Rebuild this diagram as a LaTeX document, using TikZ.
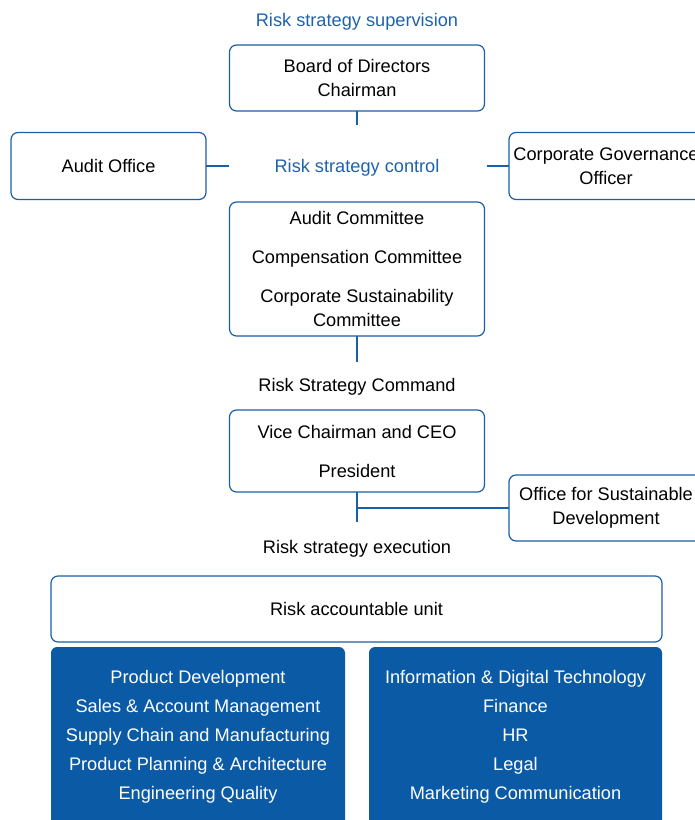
\documentclass[tikz,border=0pt]{standalone}
\usepackage{fontspec}
\setmainfont{Liberation Sans}
\definecolor{lineblue}{HTML}{1B5FA7}
\definecolor{fillblue}{HTML}{0A5AA6}
\definecolor{labelblue}{HTML}{1F62AC}
\tikzset{
  unitbox/.style={draw=lineblue, line width=1.2pt, rounded corners=7pt, align=center,
    inner sep=0pt, outer sep=0pt, fill=white},
  bluebox/.style={fill=fillblue, rounded corners=6pt, align=center, text=white,
    inner sep=0pt, outer sep=0pt, font=\fontsize{18.2}{29}\selectfont},
  level/.style={align=center},
  link/.style={draw=lineblue, line width=1.4pt}
}
\begin{document}
\begin{tikzpicture}[x=1pt, y=-1pt, font=\fontsize{18.2}{24}\selectfont]
\useasboundingbox (0,0) rectangle (695,820);
\clip (0,0) rectangle (695,820);

% levels
\node[level, text=labelblue] (sup) at (357,22) {Risk strategy supervision};
\node[level, text=labelblue] (ctl) at (357,168) {Risk strategy control};
\node[level] (cmd) at (357,387) {Risk Strategy Command};
\node[level] (exe) at (357,549) {Risk strategy execution};

% boxes
\node[unitbox, minimum width=255, minimum height=66] (board) at (357,78)
  {Board of Directors\\Chairman};
\node[unitbox, minimum width=195, minimum height=67] (audit) at (108.5,166)
  {Audit Office};
\node[unitbox, minimum width=194, minimum height=67] (cgo) at (606,166)
  {Corporate Governance\\Officer};
\node[unitbox, minimum width=255, minimum height=134] (comm) at (357,269)
  {Audit Committee\\[15pt]Compensation Committee\\[15pt]Corporate Sustainability\\Committee};
\node[unitbox, minimum width=255, minimum height=82] (ceo) at (357,451)
  {Vice Chairman and CEO\\[15pt]President};
\node[unitbox, minimum width=194, minimum height=66] (osd) at (606,508)
  {Office for Sustainable\\Development};
\node[unitbox, minimum width=611, minimum height=66] (rau) at (356.5,609)
  {Risk accountable unit};

\node[bluebox, minimum width=294, minimum height=180] (left) at (198,737)
  {Product Development\\Sales \& Account Management\\Supply Chain and Manufacturing\\Product Planning \& Architecture\\Engineering Quality};
\node[bluebox, minimum width=293, minimum height=180] (right) at (515.5,737)
  {Information \& Digital Technology\\Finance\\HR\\Legal\\Marketing Communication};

% connectors
\coordinate (b1) at (357,125);
\coordinate (a1) at (229,166);
\coordinate (c1) at (487,166);
\coordinate (m1) at (357,362);
\coordinate (e1) at (357,522);
\coordinate (e2) at (357,508);

\draw[link] (board.south) -- (b1);
\draw[link] (audit.east) -- (a1);
\draw[link] (cgo.west) -- (c1);
\draw[link] (comm.south) -- (m1);
\draw[link] (ceo.south) -- (e1);
\draw[link] (e2) -- (osd.west);
\end{tikzpicture}
\end{document}
